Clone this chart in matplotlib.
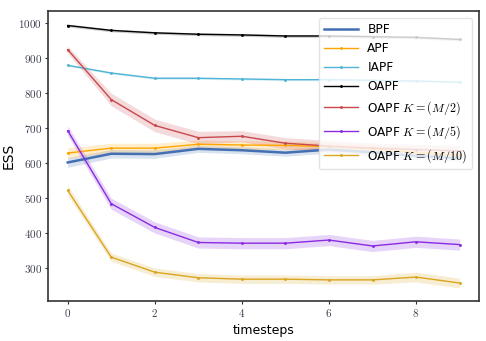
import numpy as np
import matplotlib
matplotlib.use("Agg")
import matplotlib.pyplot as plt
from matplotlib.ticker import FuncFormatter

plt.rcParams['mathtext.fontset'] = 'cm'
plt.rcParams['font.family'] = 'DejaVu Sans'

# ESS per timestep (mean and spread)
timesteps = list(range(10))

bpf = [601, 626, 625, 640, 636, 629, 638, 630, 620, 613]
bpf_sd = [14, 12, 12, 10, 10, 10, 10, 10, 10, 10]

apf = [628, 642, 642, 653, 651, 650, 646, 640, 630, 622]
apf_sd = [15, 14, 14, 12, 12, 12, 12, 12, 12, 12]

iapf = [879, 857, 842, 842, 840, 838, 838, 836, 834, 831]
iapf_sd = [3, 3, 3, 3, 3, 3, 3, 3, 3, 3]

oapf = [993, 979, 972, 968, 966, 963, 963, 961, 959, 953]
oapf_sd = [4, 4, 4, 4, 4, 4, 4, 4, 4, 4]

oapf_k2 = [924, 781, 707, 672, 676, 656, 648, 642, 638, 634]
oapf_k2_sd = [10, 18, 18, 18, 16, 16, 16, 15, 15, 15]

oapf_k5 = [692, 483, 415, 372, 370, 370, 379, 362, 374, 366]
oapf_k5_sd = [14, 16, 16, 16, 16, 16, 16, 16, 16, 16]

oapf_k10 = [521, 330, 287, 271, 267, 267, 265, 265, 273, 256]
oapf_k10_sd = [14, 12, 12, 12, 12, 12, 12, 12, 14, 14]

series = [
    ("BPF", bpf, bpf_sd, "#4470b3", None, 1.8),
    ("APF", apf, apf_sd, "#ffa500", ".", 1.0),
    ("IAPF", iapf, iapf_sd, "#4fb4d6", ".", 1.0),
    ("OAPF", oapf, oapf_sd, "black", ".", 1.0),
    (r"OAPF $K=(M/2)$", oapf_k2, oapf_k2_sd, "#c8484c", ".", 1.0),
    (r"OAPF $K=(M/5)$", oapf_k5, oapf_k5_sd, "#8a2be2", ".", 1.0),
    (r"OAPF $K=(M/10)$", oapf_k10, oapf_k10_sd, "#daa520", ".", 1.0),
]

fig, ax = plt.subplots(figsize=(4.86, 3.41), dpi=100)
fig.subplots_adjust(left=0.099, right=0.986, top=0.968, bottom=0.117)

for label, vals, sd, col, mk, lw in series:
    vals = np.array(vals)
    sd = np.array(sd)
    ax.plot(timesteps, vals, color=col, marker=mk, markersize=2.2, lw=lw, label=label)
    ax.fill_between(timesteps, vals - sd, vals + sd, color=col, alpha=0.2, lw=0)

ax.set_xticks([0, 2, 4, 6, 8])
ax.set_yticks([300, 400, 500, 600, 700, 800, 900, 1000])
ax.xaxis.set_major_formatter(FuncFormatter(lambda v, p: f"${int(v)}$"))
ax.yaxis.set_major_formatter(FuncFormatter(lambda v, p: f"${int(v)}$"))
ax.tick_params(labelsize=8, labelcolor="#3a3f4f", length=2, width=0.8, color="#333333", pad=2.5)
for s in ax.spines.values():
    s.set_color("#333333")
    s.set_linewidth(1.2)

ax.set_xlabel("timesteps", fontsize=9, labelpad=3)
ax.set_ylabel("ESS", fontsize=10, labelpad=2)
ax.legend(loc="upper right", fontsize=8.7, framealpha=0.8, edgecolor="#dddddd",
          handlelength=2.8, borderaxespad=0.6)

plt.savefig("out.png", dpi=100)
